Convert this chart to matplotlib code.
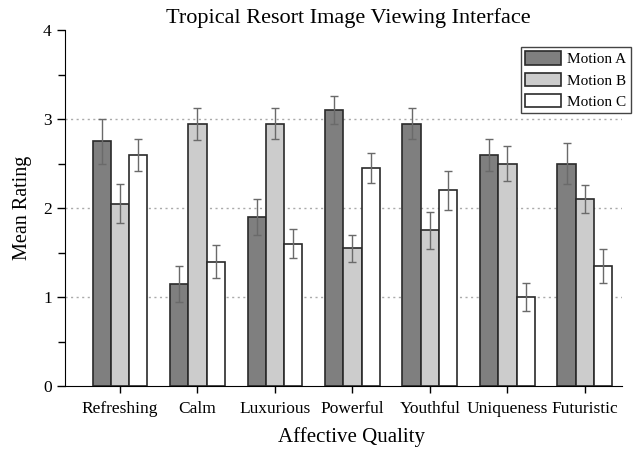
"""Grouped bar chart of mean ratings per affective quality"""
import numpy as np
import matplotlib
matplotlib.use("Agg")
import matplotlib.pyplot as plt
from matplotlib.ticker import MultipleLocator

categories = ['Refreshing', 'Calm', 'Luxurious', 'Powerful',
              'Youthful', 'Uniqueness', 'Futuristic']
series_names = ['Motion A', 'Motion B', 'Motion C']
motion_a = [2.75, 1.15, 1.90, 3.10, 2.95, 2.60, 2.50]
motion_b = [2.05, 2.95, 2.95, 1.55, 1.75, 2.50, 2.10]
motion_c = [2.60, 1.40, 1.60, 2.45, 2.20, 1.00, 1.35]
err_a = [0.25, 0.20, 0.20, 0.16, 0.17, 0.18, 0.23]
err_b = [0.22, 0.18, 0.17, 0.15, 0.21, 0.20, 0.16]
err_c = [0.18, 0.18, 0.16, 0.17, 0.22, 0.16, 0.19]

plt.rcParams['font.family'] = ['Liberation Serif', 'DejaVu Serif']

fig = plt.figure(figsize=(6.33, 4.5), dpi=100)
ax = fig.add_axes([0.1027, 0.142, 0.880, 0.791])

x = np.arange(len(categories))
width = 0.236
colors = ['#7f7f7f', '#cccccc', '#ffffff']
values = [motion_a, motion_b, motion_c]
errors = [err_a, err_b, err_c]

for i, (vals, errs) in enumerate(zip(values, errors)):
    ax.bar(x + (i - 1) * width, vals, width, color=colors[i],
           edgecolor='#2a2a2a', linewidth=1.2, label=series_names[i], zorder=2)
    ax.errorbar(x + (i - 1) * width, vals, yerr=errs, fmt='none',
                ecolor='#6a6a6a', elinewidth=1.0, capsize=3, capthick=1.0, zorder=3)

# dotted grid lines
for yv in [1, 2, 3]:
    ax.axhline(yv, color='#aaaaaa', linestyle=(0, (1.5, 2.5)), linewidth=1.0, zorder=1)

ax.set_xlim(-0.71, 6.48)
ax.set_ylim(0, 4)
ax.set_xticks(x)
ax.set_xticklabels(categories, fontsize=12.5)
ax.yaxis.set_major_locator(MultipleLocator(1))
ax.yaxis.set_minor_locator(MultipleLocator(0.5))
ax.tick_params(axis='y', which='major', direction='out', length=6, width=1, labelsize=12.5)
ax.tick_params(axis='y', which='minor', direction='out', length=5, width=1)
ax.tick_params(axis='x', direction='out', length=5, width=1, pad=6)

ax.spines['top'].set_visible(False)
ax.spines['right'].set_visible(False)

ax.set_xlabel('Affective Quality', fontsize=15, labelpad=7)
ax.xaxis.set_label_coords(0.515, -0.115)
ax.set_ylabel('Mean Rating', fontsize=14.5, labelpad=8)
ax.set_title('Tropical Resort Image Viewing Interface', fontsize=16, pad=5, x=0.508)

leg = ax.legend(loc='upper right', bbox_to_anchor=(0.997, 0.896),
                bbox_transform=fig.transFigure, borderaxespad=0, fontsize=11,
                fancybox=False, edgecolor='#444444', framealpha=1,
                handlelength=2.35, handleheight=1.0, borderpad=0.3,
                labelspacing=0.4, handletextpad=0.4)
leg.get_frame().set_linewidth(1.0)

fig.savefig('out.png', dpi=100)
